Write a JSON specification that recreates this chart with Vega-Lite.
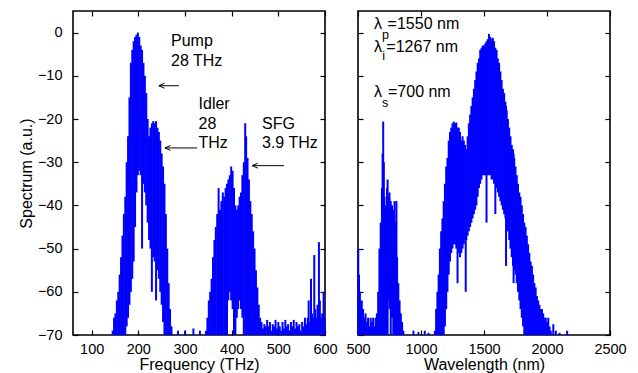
{
"$schema": "https://vega.github.io/schema/vega-lite/v6.json",
"padding": {"left": 17, "top": 9, "right": 5, "bottom": 5},
"background": "white",
"config": {
  "view": {"stroke": "black", "strokeWidth": 1.6},
  "font": "Liberation Sans",
  "axis": {"grid": false, "domain": false, "tickColor": "black", "tickSize": -5, "tickWidth": 1.2, "labelColor": "black", "labelFontSize": 14.5, "labelFont": "Liberation Sans", "titleFont": "Liberation Sans", "titleFontSize": 16, "titleFontWeight": "normal", "titleColor": "black", "format": "d", "labelFlush": false, "labelOverlap": false},
  "text": {"font": "Liberation Sans", "fontSize": 16, "color": "black"}
},
"datasets": {
  "L": [
    {"f":145,"hi":-69,"lo":-70},{"f":148,"hi":-66,"lo":-70},{"f":151,"hi":-65,"lo":-70},{"f":154,"hi":-62,"lo":-70},{"f":157,"hi":-60,"lo":-70},{"f":160,"hi":-56,"lo":-70},{"f":163,"hi":-52,"lo":-70},{"f":166,"hi":-47,"lo":-70},{"f":169,"hi":-42,"lo":-70},{"f":172,"hi":-38,"lo":-70},{"f":175,"hi":-30,"lo":-68},{"f":178,"hi":-24,"lo":-66},{"f":181,"hi":-15,"lo":-63},{"f":184,"hi":-7,"lo":-60},{"f":187,"hi":-4,"lo":-57},{"f":190,"hi":-2,"lo":-53},{"f":193,"hi":-1,"lo":-45},{"f":196,"hi":-0.5,"lo":-37},{"f":199,"hi":0,"lo":-33},{"f":202,"hi":-1,"lo":-32},{"f":205,"hi":-3,"lo":-33},{"f":208,"hi":-4,"lo":-50},{"f":211,"hi":-7,"lo":-35},{"f":214,"hi":-10,"lo":-37},{"f":217,"hi":-14,"lo":-40},{"f":220,"hi":-20,"lo":-44},{"f":223,"hi":-24,"lo":-48},{"f":226,"hi":-22,"lo":-50},{"f":229,"hi":-21,"lo":-60},{"f":232,"hi":-20.5,"lo":-52},{"f":235,"hi":-21,"lo":-53},{"f":238,"hi":-20.5,"lo":-62},{"f":241,"hi":-22,"lo":-55},{"f":244,"hi":-23,"lo":-57},{"f":247,"hi":-25,"lo":-60},{"f":250,"hi":-28,"lo":-63},{"f":253,"hi":-31,"lo":-67},{"f":256,"hi":-35,"lo":-70},{"f":259,"hi":-42,"lo":-70},{"f":262,"hi":-50,"lo":-70},{"f":265,"hi":-58,"lo":-70},{"f":268,"hi":-64,"lo":-70},{"f":271,"hi":-68,"lo":-70},
    {"f":285,"hi":-69,"lo":-70},{"f":300,"hi":-69,"lo":-70},{"f":318,"hi":-68.5,"lo":-70},{"f":332,"hi":-69,"lo":-70},
    {"f":345,"hi":-69,"lo":-70},{"f":348,"hi":-66,"lo":-70},{"f":351,"hi":-62,"lo":-70},{"f":354,"hi":-60,"lo":-70},{"f":357,"hi":-57,"lo":-70},{"f":360,"hi":-52,"lo":-70},{"f":363,"hi":-48,"lo":-70},{"f":366,"hi":-45,"lo":-70},{"f":369,"hi":-42,"lo":-70},{"f":372,"hi":-36,"lo":-70},{"f":375,"hi":-41,"lo":-70},{"f":378,"hi":-39,"lo":-70},{"f":381,"hi":-37,"lo":-70},{"f":384,"hi":-38,"lo":-70},{"f":387,"hi":-36,"lo":-70},{"f":390,"hi":-35,"lo":-70},{"f":393,"hi":-34,"lo":-62},{"f":396,"hi":-33,"lo":-60},{"f":399,"hi":-31,"lo":-62},{"f":402,"hi":-32,"lo":-64},{"f":405,"hi":-36,"lo":-70},{"f":408,"hi":-40,"lo":-70},{"f":411,"hi":-41,"lo":-66},{"f":414,"hi":-40,"lo":-64},{"f":417,"hi":-38,"lo":-62},{"f":420,"hi":-37,"lo":-64},{"f":423,"hi":-33,"lo":-66},{"f":426,"hi":-30,"lo":-70},{"f":429,"hi":-21,"lo":-70},{"f":431,"hi":-24,"lo":-70},{"f":434,"hi":-29,"lo":-70},{"f":437,"hi":-34,"lo":-70},{"f":440,"hi":-39,"lo":-70},{"f":443,"hi":-42,"lo":-70},{"f":446,"hi":-46,"lo":-70},{"f":449,"hi":-50,"lo":-70},{"f":452,"hi":-55,"lo":-70},{"f":455,"hi":-59,"lo":-70},{"f":458,"hi":-63,"lo":-70},{"f":461,"hi":-66,"lo":-70},
    {"f":464,"hi":-67,"lo":-70},{"f":467,"hi":-68.5,"lo":-70},{"f":470,"hi":-67.5,"lo":-70},{"f":473,"hi":-68,"lo":-70},{"f":476,"hi":-66.5,"lo":-70},{"f":479,"hi":-68,"lo":-70},{"f":482,"hi":-67,"lo":-70},{"f":485,"hi":-69,"lo":-70},{"f":488,"hi":-67.5,"lo":-70},{"f":491,"hi":-68,"lo":-70},{"f":494,"hi":-66.5,"lo":-70},{"f":497,"hi":-68.5,"lo":-70},{"f":500,"hi":-67,"lo":-70},{"f":503,"hi":-68,"lo":-70},{"f":506,"hi":-69,"lo":-70},{"f":509,"hi":-67,"lo":-70},{"f":512,"hi":-68.5,"lo":-70},{"f":515,"hi":-66.5,"lo":-70},{"f":518,"hi":-68,"lo":-70},{"f":521,"hi":-67.5,"lo":-70},{"f":524,"hi":-69,"lo":-70},{"f":527,"hi":-67,"lo":-70},{"f":530,"hi":-68,"lo":-70},{"f":533,"hi":-66.5,"lo":-70},{"f":536,"hi":-68.5,"lo":-70},{"f":539,"hi":-67,"lo":-70},{"f":542,"hi":-68,"lo":-70},{"f":545,"hi":-67.5,"lo":-70},{"f":548,"hi":-69,"lo":-70},{"f":551,"hi":-67,"lo":-70},{"f":554,"hi":-68,"lo":-70},{"f":557,"hi":-66,"lo":-70},{"f":560,"hi":-67.5,"lo":-70},{"f":563,"hi":-66,"lo":-70},{"f":565,"hi":-62,"lo":-70},{"f":567,"hi":-67,"lo":-70},{"f":570,"hi":-57,"lo":-70},{"f":572,"hi":-65,"lo":-70},{"f":575,"hi":-66,"lo":-70},{"f":577,"hi":-51.5,"lo":-70},{"f":579,"hi":-64,"lo":-70},{"f":581,"hi":-66,"lo":-70},{"f":584,"hi":-63,"lo":-70},{"f":587,"hi":-48.5,"lo":-70},{"f":589,"hi":-62,"lo":-70},{"f":591,"hi":-66,"lo":-70},{"f":594,"hi":-65,"lo":-70},{"f":597,"hi":-60,"lo":-70},{"f":599,"hi":-66,"lo":-70}
  ],
  "R": [
    {"w":502,"hi":-50,"lo":-70},{"w":508,"hi":-56,"lo":-70},{"w":515,"hi":-60,"lo":-70},{"w":522,"hi":-63,"lo":-70},{"w":530,"hi":-62,"lo":-70},{"w":540,"hi":-64,"lo":-70},{"w":550,"hi":-66,"lo":-70},{"w":560,"hi":-65,"lo":-70},{"w":570,"hi":-67,"lo":-70},{"w":580,"hi":-66,"lo":-70},{"w":590,"hi":-68,"lo":-70},{"w":600,"hi":-66,"lo":-70},{"w":610,"hi":-67,"lo":-70},{"w":620,"hi":-66,"lo":-70},{"w":630,"hi":-68,"lo":-70},{"w":640,"hi":-66,"lo":-70},{"w":650,"hi":-65,"lo":-70},{"w":660,"hi":-60,"lo":-70},{"w":670,"hi":-50,"lo":-70},{"w":680,"hi":-44,"lo":-70},{"w":690,"hi":-36,"lo":-70},{"w":695,"hi":-28,"lo":-70},{"w":700,"hi":-20.6,"lo":-70},{"w":705,"hi":-30,"lo":-70},{"w":710,"hi":-38,"lo":-70},{"w":720,"hi":-40,"lo":-70},{"w":730,"hi":-36,"lo":-70},{"w":735,"hi":-34,"lo":-70},{"w":740,"hi":-38,"lo":-62},{"w":750,"hi":-37,"lo":-64},{"w":760,"hi":-39,"lo":-70},{"w":770,"hi":-40,"lo":-66},{"w":780,"hi":-41,"lo":-70},{"w":790,"hi":-39,"lo":-70},{"w":800,"hi":-44,"lo":-70},{"w":805,"hi":-39,"lo":-70},{"w":810,"hi":-52,"lo":-70},{"w":820,"hi":-58,"lo":-70},{"w":830,"hi":-62,"lo":-70},{"w":840,"hi":-65,"lo":-70},{"w":850,"hi":-67,"lo":-70},{"w":860,"hi":-69,"lo":-70},
    {"w":940,"hi":-69,"lo":-70},{"w":980,"hi":-69.3,"lo":-70},{"w":1030,"hi":-69,"lo":-70},{"w":1060,"hi":-69.5,"lo":-70},
    {"w":1110,"hi":-69,"lo":-70},{"w":1120,"hi":-64,"lo":-70},{"w":1130,"hi":-60,"lo":-70},{"w":1140,"hi":-56,"lo":-70},{"w":1150,"hi":-50,"lo":-70},{"w":1160,"hi":-46,"lo":-70},{"w":1170,"hi":-43,"lo":-70},{"w":1180,"hi":-39,"lo":-70},{"w":1190,"hi":-35,"lo":-68},{"w":1200,"hi":-31,"lo":-64},{"w":1210,"hi":-29,"lo":-60},{"w":1220,"hi":-25,"lo":-56},{"w":1230,"hi":-23,"lo":-53},{"w":1240,"hi":-22,"lo":-51},{"w":1250,"hi":-21,"lo":-50},{"w":1260,"hi":-20.6,"lo":-49},{"w":1270,"hi":-21,"lo":-49},{"w":1280,"hi":-20.8,"lo":-50},{"w":1290,"hi":-22,"lo":-58},{"w":1300,"hi":-22,"lo":-51},{"w":1310,"hi":-23,"lo":-52},{"w":1320,"hi":-25,"lo":-51},{"w":1330,"hi":-24,"lo":-50},{"w":1340,"hi":-25,"lo":-49},{"w":1350,"hi":-26,"lo":-48},{"w":1355,"hi":-27,"lo":-60},{"w":1360,"hi":-27,"lo":-48},{"w":1370,"hi":-24,"lo":-47},{"w":1380,"hi":-21,"lo":-46},{"w":1390,"hi":-19,"lo":-45},{"w":1400,"hi":-17,"lo":-44},{"w":1410,"hi":-15,"lo":-43},{"w":1420,"hi":-13,"lo":-42},{"w":1430,"hi":-11,"lo":-41},{"w":1440,"hi":-9,"lo":-40},{"w":1450,"hi":-7,"lo":-38},{"w":1460,"hi":-6,"lo":-36},{"w":1470,"hi":-4,"lo":-35},{"w":1480,"hi":-3.5,"lo":-34},{"w":1490,"hi":-3,"lo":-33},{"w":1500,"hi":-3,"lo":-33},{"w":1510,"hi":-2.5,"lo":-33},{"w":1520,"hi":-2,"lo":-44},{"w":1530,"hi":-1.5,"lo":-33},{"w":1540,"hi":-0.3,"lo":-33},{"w":1550,"hi":-1,"lo":-33},{"w":1560,"hi":-1.5,"lo":-34},{"w":1570,"hi":-1.2,"lo":-34},{"w":1580,"hi":-2,"lo":-35},{"w":1590,"hi":-3.5,"lo":-42},{"w":1600,"hi":-4,"lo":-36},{"w":1610,"hi":-6,"lo":-37},{"w":1620,"hi":-7,"lo":-38},{"w":1630,"hi":-9,"lo":-39},{"w":1640,"hi":-11,"lo":-40},{"w":1650,"hi":-13,"lo":-41},{"w":1660,"hi":-14,"lo":-42},{"w":1670,"hi":-16,"lo":-43},{"w":1675,"hi":-17,"lo":-54},{"w":1680,"hi":-18,"lo":-44},{"w":1690,"hi":-20,"lo":-46},{"w":1700,"hi":-22,"lo":-48},{"w":1710,"hi":-24,"lo":-50},{"w":1720,"hi":-26,"lo":-52},{"w":1730,"hi":-27,"lo":-54},{"w":1735,"hi":-28,"lo":-58},{"w":1740,"hi":-29,"lo":-55},{"w":1750,"hi":-31,"lo":-56},{"w":1760,"hi":-33,"lo":-58},{"w":1770,"hi":-35,"lo":-60},{"w":1780,"hi":-37,"lo":-62},{"w":1790,"hi":-38,"lo":-64},{"w":1800,"hi":-40,"lo":-66},{"w":1810,"hi":-42,"lo":-68},{"w":1820,"hi":-44,"lo":-70},{"w":1830,"hi":-45,"lo":-70},{"w":1840,"hi":-47,"lo":-70},{"w":1850,"hi":-49,"lo":-70},{"w":1860,"hi":-51,"lo":-70},{"w":1870,"hi":-53,"lo":-70},{"w":1880,"hi":-54,"lo":-70},{"w":1890,"hi":-56,"lo":-70},{"w":1900,"hi":-58,"lo":-70},{"w":1910,"hi":-59,"lo":-70},{"w":1920,"hi":-61,"lo":-70},{"w":1930,"hi":-62,"lo":-70},{"w":1940,"hi":-63,"lo":-70},{"w":1950,"hi":-64,"lo":-70},{"w":1960,"hi":-64,"lo":-70},{"w":1970,"hi":-65,"lo":-70},{"w":1980,"hi":-66,"lo":-70},{"w":1990,"hi":-66,"lo":-70},{"w":2000,"hi":-67,"lo":-70},{"w":2010,"hi":-66,"lo":-70},{"w":2020,"hi":-68,"lo":-70},{"w":2030,"hi":-69,"lo":-70},{"w":2050,"hi":-67.5,"lo":-70},{"w":2070,"hi":-69,"lo":-70},{"w":2100,"hi":-69.5,"lo":-70},{"w":2160,"hi":-69,"lo":-70}
  ],
  "Ltext": [
    {"t":"Pump","f":270,"v":-1.9},{"t":"28 THz","f":270,"v":-6.5},{"t":"Idler","f":329,"v":-16.6},{"t":"28","f":329,"v":-21.2},{"t":"THz","f":329,"v":-25.5},{"t":"SFG","f":465,"v":-21.2},{"t":"3.9 THz","f":465,"v":-25.5}
  ],
  "Larrow": [
    {"tail":287,"head":244,"v":-12.3},{"tail":326,"head":257,"v":-26.7},{"tail":512,"head":444,"v":-30.8}
  ],
  "Rtext": [
    {"t":"λ","w":627,"v":1.9},{"t":"=1550 nm","w":735,"v":1.9},{"t":"λ","w":627,"v":-3.3},{"t":"=1267 nm","w":725,"v":-3.3},{"t":"λ","w":627,"v":-13.7},{"t":"=700 nm","w":738,"v":-13.7}
  ],
  "Rsub": [
    {"t":"p","w":690,"v":-0.5},{"t":"i","w":692,"v":-5.5},{"t":"s","w":690,"v":-16.2}
  ]
},
"hconcat": [
  {
    "width": 252, "height": 324,
    "layer": [
      {
        "layer": [
          {"data": {"name": "L"}, "mark": {"type": "rule", "color": "#0000ff", "strokeWidth": 2},
           "encoding": {
             "x": {"field": "f", "type": "quantitative", "scale": {"domain": [60, 600], "nice": false, "zero": false}, "axis": {"values": [100,200,300,400,500,600], "title": "Frequency (THz)", "labelPadding": 12, "titlePadding": 1}},
             "y": {"field": "hi", "type": "quantitative", "scale": {"domain": [-70, 5], "nice": false, "zero": false}, "axis": {"values": [-70,-60,-50,-40,-30,-20,-10,0], "title": "Spectrum (a.u.)", "labelPadding": 16, "titlePadding": 3}},
             "y2": {"field": "lo"}
           }},
          {"data": {"name": "Larrow"}, "mark": {"type": "rule", "color": "black", "strokeWidth": 1},
           "encoding": {"x": {"field": "tail", "type": "quantitative"}, "x2": {"field": "head"}, "y": {"field": "v", "type": "quantitative"}}},
          {"data": {"name": "Larrow"}, "mark": {"type": "point", "shape": "M0,0L1.6,-0.7M0,0L1.6,0.7", "filled": false, "stroke": "black", "strokeWidth": 1, "size": 49, "opacity": 1},
           "encoding": {"x": {"field": "head", "type": "quantitative"}, "y": {"field": "v", "type": "quantitative"}}},
          {"data": {"name": "Ltext"}, "mark": {"type": "text", "align": "left", "baseline": "middle"},
           "encoding": {"x": {"field": "f", "type": "quantitative"}, "y": {"field": "v", "type": "quantitative"}, "text": {"field": "t"}}}
        ]
      },
      {"data": {"name": "L"}, "mark": {"type": "rule", "opacity": 0},
       "encoding": {
         "x": {"field": "f", "type": "quantitative", "scale": {"domain": [60, 600], "nice": false, "zero": false}, "axis": {"orient": "top", "values": [100,200,300,400,500,600], "labels": false, "title": null}},
         "y": {"field": "hi", "type": "quantitative", "scale": {"domain": [-70, 5], "nice": false, "zero": false}, "axis": {"orient": "right", "values": [-70,-60,-50,-40,-30,-20,-10,0], "labels": false, "title": null}}
       }}
    ],
    "resolve": {"axis": {"x": "independent", "y": "independent"}}
  },
  {
    "width": 252, "height": 324,
    "layer": [
      {
        "layer": [
          {"data": {"name": "R"}, "mark": {"type": "rule", "color": "#0000ff", "strokeWidth": 2},
           "encoding": {
             "x": {"field": "w", "type": "quantitative", "scale": {"domain": [500, 2500], "nice": false, "zero": false}, "axis": {"values": [500,1000,1500,2000,2500], "title": "Wavelength (nm)", "labelPadding": 12, "titlePadding": 1}},
             "y": {"field": "hi", "type": "quantitative", "scale": {"domain": [-70, 5], "nice": false, "zero": false}, "axis": {"values": [-70,-60,-50,-40,-30,-20,-10,0], "labels": false, "title": null}},
             "y2": {"field": "lo"}
           }},
          {"data": {"name": "Rtext"}, "mark": {"type": "text", "align": "left", "baseline": "middle"},
           "encoding": {"x": {"field": "w", "type": "quantitative"}, "y": {"field": "v", "type": "quantitative"}, "text": {"field": "t"}}},
          {"data": {"name": "Rsub"}, "mark": {"type": "text", "align": "left", "baseline": "middle", "fontSize": 12.5},
           "encoding": {"x": {"field": "w", "type": "quantitative"}, "y": {"field": "v", "type": "quantitative"}, "text": {"field": "t"}}}
        ]
      },
      {"data": {"name": "R"}, "mark": {"type": "rule", "opacity": 0},
       "encoding": {
         "x": {"field": "w", "type": "quantitative", "scale": {"domain": [500, 2500], "nice": false, "zero": false}, "axis": {"orient": "top", "values": [500,1000,1500,2000,2500], "labels": false, "title": null}},
         "y": {"field": "hi", "type": "quantitative", "scale": {"domain": [-70, 5], "nice": false, "zero": false}, "axis": {"orient": "right", "values": [-70,-60,-50,-40,-30,-20,-10,0], "labels": false, "title": null}}
       }}
    ],
    "resolve": {"axis": {"x": "independent", "y": "independent"}}
  }
],
"spacing": 33,
"bounds": "flush"
}
